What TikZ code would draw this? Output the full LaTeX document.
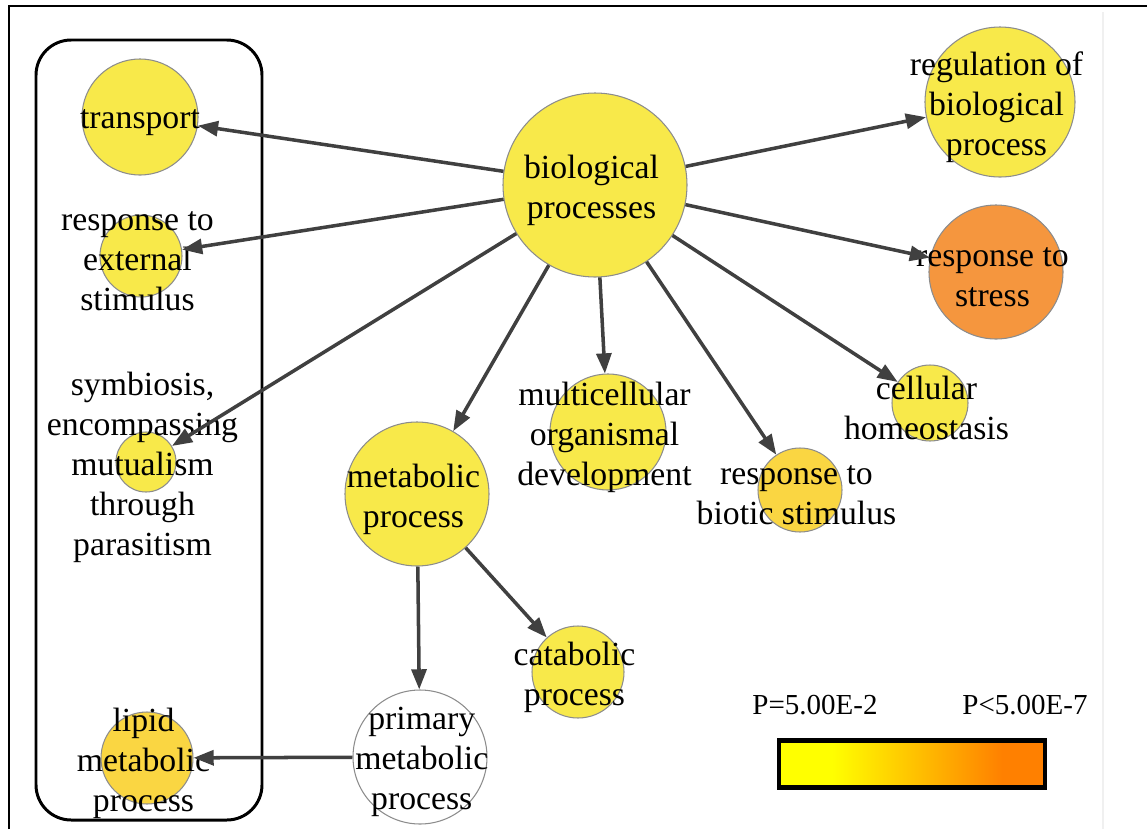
\documentclass[tikz,border=0pt]{standalone}
\usepackage{fontspec}
\setmainfont{Liberation Serif}
\usetikzlibrary{arrows.meta}
\definecolor{goyellow}{RGB}{248,233,74}
\definecolor{gogold}{RGB}{250,214,66}
\definecolor{goorange}{RGB}{245,150,62}
\definecolor{nodeline}{RGB}{140,140,140}
\definecolor{edgegray}{RGB}{64,64,64}
\definecolor{scaleyellow}{RGB}{255,255,0}
\definecolor{scaleorange}{RGB}{255,128,0}
\pgfdeclarehorizontalshading{pscale}{100bp}{color(0bp)=(scaleyellow); color(35bp)=(scaleyellow); color(67bp)=(scaleorange); color(100bp)=(scaleorange)}
\begin{document}
\begin{tikzpicture}[x=0.02cm, y=-0.02cm,
    go/.style={circle, draw=nodeline, line width=0.6pt, fill=goyellow, inner sep=0pt, minimum size=#1*0.02cm},
    lbl/.style={align=center, inner sep=0pt, xshift=-2pt, yshift=-3pt, font=\fontsize{19.2}{22.7}\selectfont},
    link/.style={draw=edgegray, line width=2pt, -{Triangle[length=11.5pt, width=8.5pt]}},
    legtxt/.style={inner sep=0pt, font=\fontsize{16.5}{20}\selectfont}]
  \useasboundingbox (0,0) rectangle (1147,829);
  % frame and group box
  \draw[line width=1.1pt] (9,829) -- (9,6) -- (1147,6);
  \draw[gray!12, line width=0.6pt] (1103,12) -- (1103,829);
  \draw[line width=1.7pt, rounded corners=20pt] (36,40) rectangle (262,820);
  % GO terms
  \node[go=184, label={[lbl]center:{biological\\processes}}] (bio) at (595,185) {};
  \node[go=116, label={[lbl, xshift=2pt]center:transport}] (transport) at (140,117) {};
  \node[go=82, label={[lbl]center:{response to\\external\\stimulus}}] (external) at (141,256) {};
  \node[go=60, label={[lbl]center:{symbiosis,\\encompassing\\mutualism\\through\\parasitism}}] (symbiosis) at (146,462) {};
  \node[go=92, fill=gogold, label={[lbl]center:{lipid\\metabolic\\process}}] (lipid) at (147,758) {};
  \node[go=150, label={[lbl]center:{regulation of\\biological\\process}}] (regulation) at (1000,102) {};
  \node[go=134, fill=goorange, label={[lbl]center:{response to\\stress}}] (stress) at (996,272) {};
  \node[go=76, label={[lbl]center:{cellular\\homeostasis}}] (homeostasis) at (930,403) {};
  \node[go=84, fill=gogold, label={[lbl]center:{response to\\biotic stimulus}}] (biotic) at (800,490) {};
  \node[go=116, label={[lbl]center:{multicellular\\organismal\\development}}] (development) at (608,432) {};
  \node[go=144, label={[lbl]center:{metabolic\\process}}] (metabolic) at (417,494) {};
  \node[go=92, label={[lbl]center:{catabolic\\process}}] (catabolic) at (578,672) {};
  \node[go=134, fill=white, label={[lbl, xshift=3pt]center:{primary\\metabolic\\process}}] (primary) at (420,757) {};
  % edges
  \draw[link] (bio) -- (transport);
  \draw[link] (bio) -- (external);
  \draw[link] (bio) -- (symbiosis);
  \draw[link] (bio) -- (regulation);
  \draw[link] (bio) -- (stress);
  \draw[link] (bio) -- (homeostasis);
  \draw[link] (bio) -- (biotic);
  \draw[link] (bio) -- (development);
  \draw[link] (bio) -- (metabolic);
  \draw[link] (metabolic) -- (primary);
  \draw[link] (metabolic) -- (catabolic);
  \draw[link] (primary) -- (lipid);
  % colour scale
  \node[legtxt] (pmin) at (815,705) {P=5.00E-2};
  \node[legtxt] (pmax) at (1025,705) {P<5.00E-7};
  \node[draw, line width=2.8pt, shade, shading=pscale, minimum width=5.32cm, minimum height=0.94cm, inner sep=0pt] (scalebar) at (912,764) {};
\end{tikzpicture}
\end{document}
